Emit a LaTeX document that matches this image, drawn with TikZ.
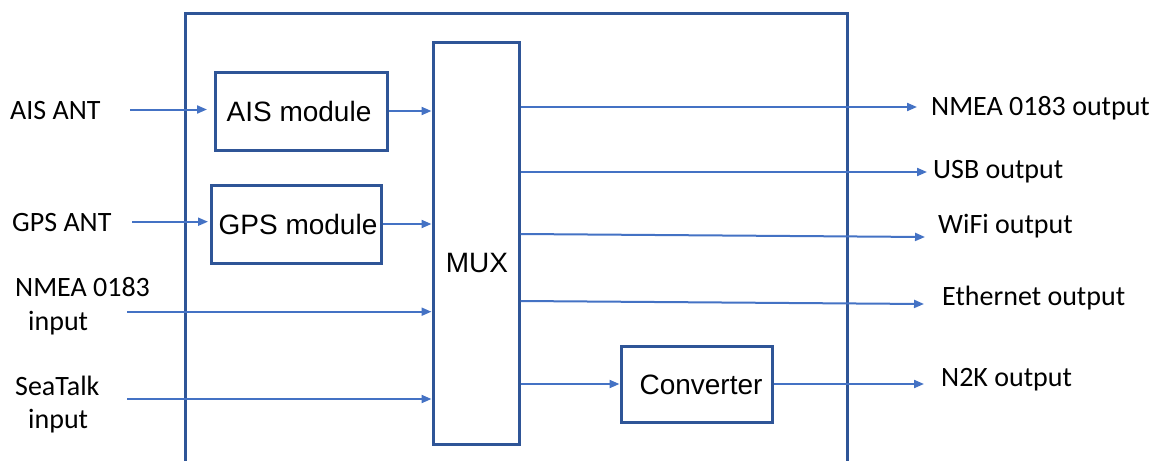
\documentclass[tikz,border=0pt]{standalone}
\usepackage{fontspec}
\setmainfont{Carlito}
\newfontfamily\arialf{Liberation Sans}
\usetikzlibrary{arrows.meta}
\definecolor{frameblue}{HTML}{2F5597}
\definecolor{arrowblue}{HTML}{4472C4}
\tikzset{
  boxnode/.style={draw=frameblue, line width=3pt, inner sep=0pt,
    font=\arialf\fontsize{28}{34}\selectfont},
  boxtext/.style={inner sep=0pt, font=\arialf\fontsize{28}{34}\selectfont},
  lbl/.style={inner sep=0pt, anchor=base west, font=\fontsize{28}{34}\selectfont},
  arr/.style={draw=arrowblue, line width=2pt, -{Triangle[length=10pt,width=8pt]}},
  framestyle/.style={draw=frameblue, line width=3pt},
}
\begin{document}
\begin{tikzpicture}[x=1pt,y=-1pt]
\useasboundingbox (0,0) rectangle (1158,460);
% outer frame (open at the bottom)
\coordinate (fbl) at (185,462);
\coordinate (ftl) at (185,14);
\coordinate (ftr) at (847,14);
\coordinate (fbr) at (847,462);
\draw[framestyle] (fbl) -- (ftl) -- (ftr) -- (fbr);

% boxes
\node[boxnode, minimum width=172pt, minimum height=78pt] (ais) at (301,111) {};
\node[boxtext] (aistxt) at (299,111) {AIS module};
\node[boxnode, minimum width=170pt, minimum height=78pt] (gps) at (296,224) {};
\node[boxtext] (gpstxt) at (298,224) {GPS module};
\node[boxnode, minimum width=86pt, minimum height=401pt] (mux) at (476,243.5) {};
\node[boxtext] (muxtxt) at (477,263) {MUX};
\node[boxnode, minimum width=151pt, minimum height=76pt] (conv) at (696.5,384) {};
\node[boxtext] (convtxt) at (701,385) {Converter};

% input labels
\node[lbl] (laisant) at (10,119.3) {AIS ANT};
\node[lbl] (lgpsant) at (12,231.7) {GPS ANT};
\node[lbl] (lnmea) at (15,296) {NMEA 0183};
\node[lbl] (lnmeain) at (28,330) {input};
\node[lbl] (lsea) at (15,395) {SeaTalk};
\node[lbl] (lseain) at (28,428.5) {input};

% output labels
\node[lbl] (lo1) at (931,115) {NMEA 0183 output};
\node[lbl] (lo2) at (933,178.3) {USB output};
\node[lbl] (lo3) at (938,233.3) {WiFi output};
\node[lbl] (lo4) at (942,305.7) {Ethernet output};
\node[lbl] (lo5) at (941,386.7) {N2K output};

% free ends of connectors
\coordinate (iais) at (130,109.5);
\coordinate (iaisend) at (207,109.5);
\coordinate (igps) at (132,221.7);
\coordinate (igpsend) at (208,221.7);
\coordinate (yais) at (0,111);
\coordinate (ygps) at (0,224);
\coordinate (inmea) at (127,311.7);
\coordinate (isea) at (127,399);
\coordinate (o1) at (917,107);
\coordinate (o2) at (927,172);
\coordinate (o3) at (925,237);
\coordinate (o4) at (924,304);
\coordinate (o5) at (924,384);

% input connectors
\draw[arr] (iais) -- (iaisend);
\draw[arr] (igps) -- (igpsend);
\draw[arr] (ais.east |- yais) -- (mux.west |- yais);
\draw[arr] (gps.east |- ygps) -- (mux.west |- ygps);
\draw[arr] (inmea) -- (inmea -| mux.west);
\draw[arr] (isea) -- (isea -| mux.west);

% output connectors
\draw[arr] (o1 -| mux.east) -- (o1);
\draw[arr] (o2 -| mux.east) -- (o2);
\draw[arr] ([yshift=3pt]o3 -| mux.east) -- (o3);
\draw[arr] ([yshift=3pt]o4 -| mux.east) -- (o4);
\draw[arr] (mux.east |- conv.west) -- (conv.west);
\draw[arr] (conv.east) -- (o5);
\end{tikzpicture}
\end{document}
